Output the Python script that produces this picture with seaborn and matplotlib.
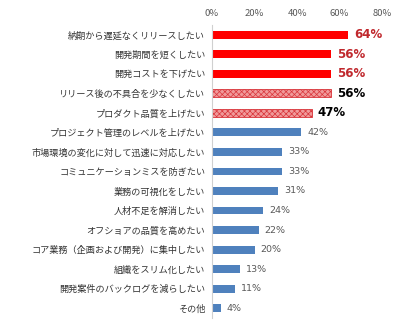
import matplotlib
matplotlib.use("Agg")
import matplotlib.pyplot as plt
import seaborn as sns
import pandas as pd

categories = [
    "納期から遅延なくリリースしたい",
    "開発期間を短くしたい",
    "開発コストを下げたい",
    "リリース後の不具合を少なくしたい",
    "プロダクト品質を上げたい",
    "プロジェクト管理のレベルを上げたい",
    "市場環境の変化に対して迅速に対応したい",
    "コミュニケーションミスを防ぎたい",
    "業務の可視化をしたい",
    "人材不足を解消したい",
    "オフショアの品質を高めたい",
    "コア業務（企画および開発）に集中したい",
    "組織をスリム化したい",
    "開発案件のバックログを減らしたい",
    "その他",
]
values = [64, 56, 56, 56, 47, 42, 33, 33, 31, 24, 22, 20, 13, 11, 4]
styles = ["red", "red", "red", "hatch", "hatch"] + ["blue"] * 10
xticks = [0, 20, 40, 60, 80]

sns.set_style("white")
plt.rcParams["font.family"] = ["Noto Sans CJK JP", "DejaVu Sans"]
plt.rcParams["hatch.color"] = "#D9343A"
plt.rcParams["hatch.linewidth"] = 0.5

color_map = {"red": "#FF0000", "hatch": "#F09A9A", "blue": "#4F81BD"}
df = pd.DataFrame({"cat": categories, "val": values, "style": styles})

fig = plt.figure(figsize=(4.0, 3.29), dpi=100)
ax = fig.add_axes([0.53, 0.0334, 0.425, 0.891])

sns.barplot(data=df, x="val", y="cat", hue="cat", orient="h",
            palette=[color_map[s] for s in styles], legend=False,
            width=0.4, ax=ax, saturation=1)

for patch, s in zip(ax.patches, styles):
    if s == "hatch":
        patch.set_hatch("xxxxxx")
        patch.set_edgecolor("#D9343A")
        patch.set_linewidth(0.6)
    else:
        patch.set_linewidth(0)

for i, (v, s) in enumerate(zip(values, styles)):
    label = f"{v}%"
    if s == "red":
        ax.text(v + 2.8, i, label, va="center", ha="left", fontsize=8.5,
                fontweight="bold", color="#C0282D", family="DejaVu Sans")
    elif s == "hatch":
        ax.text(v + 2.8, i, label, va="center", ha="left", fontsize=8.5,
                fontweight="bold", color="black", family="DejaVu Sans")
    else:
        ax.text(v + 2.8, i, label, va="center", ha="left", fontsize=6.8,
                color="#595959", family="DejaVu Sans")

ax.set_xlim(0, 80)
ax.set_ylim(len(categories) - 0.5, -0.5)
ax.set_xticks(xticks)
ax.set_xticklabels([f"{t}%" for t in xticks])
ax.xaxis.tick_top()
ax.tick_params(axis="x", length=0, labelsize=6.8, labelcolor="#595959", pad=5)
ax.tick_params(axis="y", length=0, labelsize=6.6, labelcolor="#333333", pad=5)
ax.set_xlabel("")
ax.set_ylabel("")
for sp in ["top", "right", "bottom"]:
    ax.spines[sp].set_visible(False)
ax.spines["left"].set_color("#D0D0D0")
ax.spines["left"].set_linewidth(0.8)

fig.savefig("out.png", dpi=100)
